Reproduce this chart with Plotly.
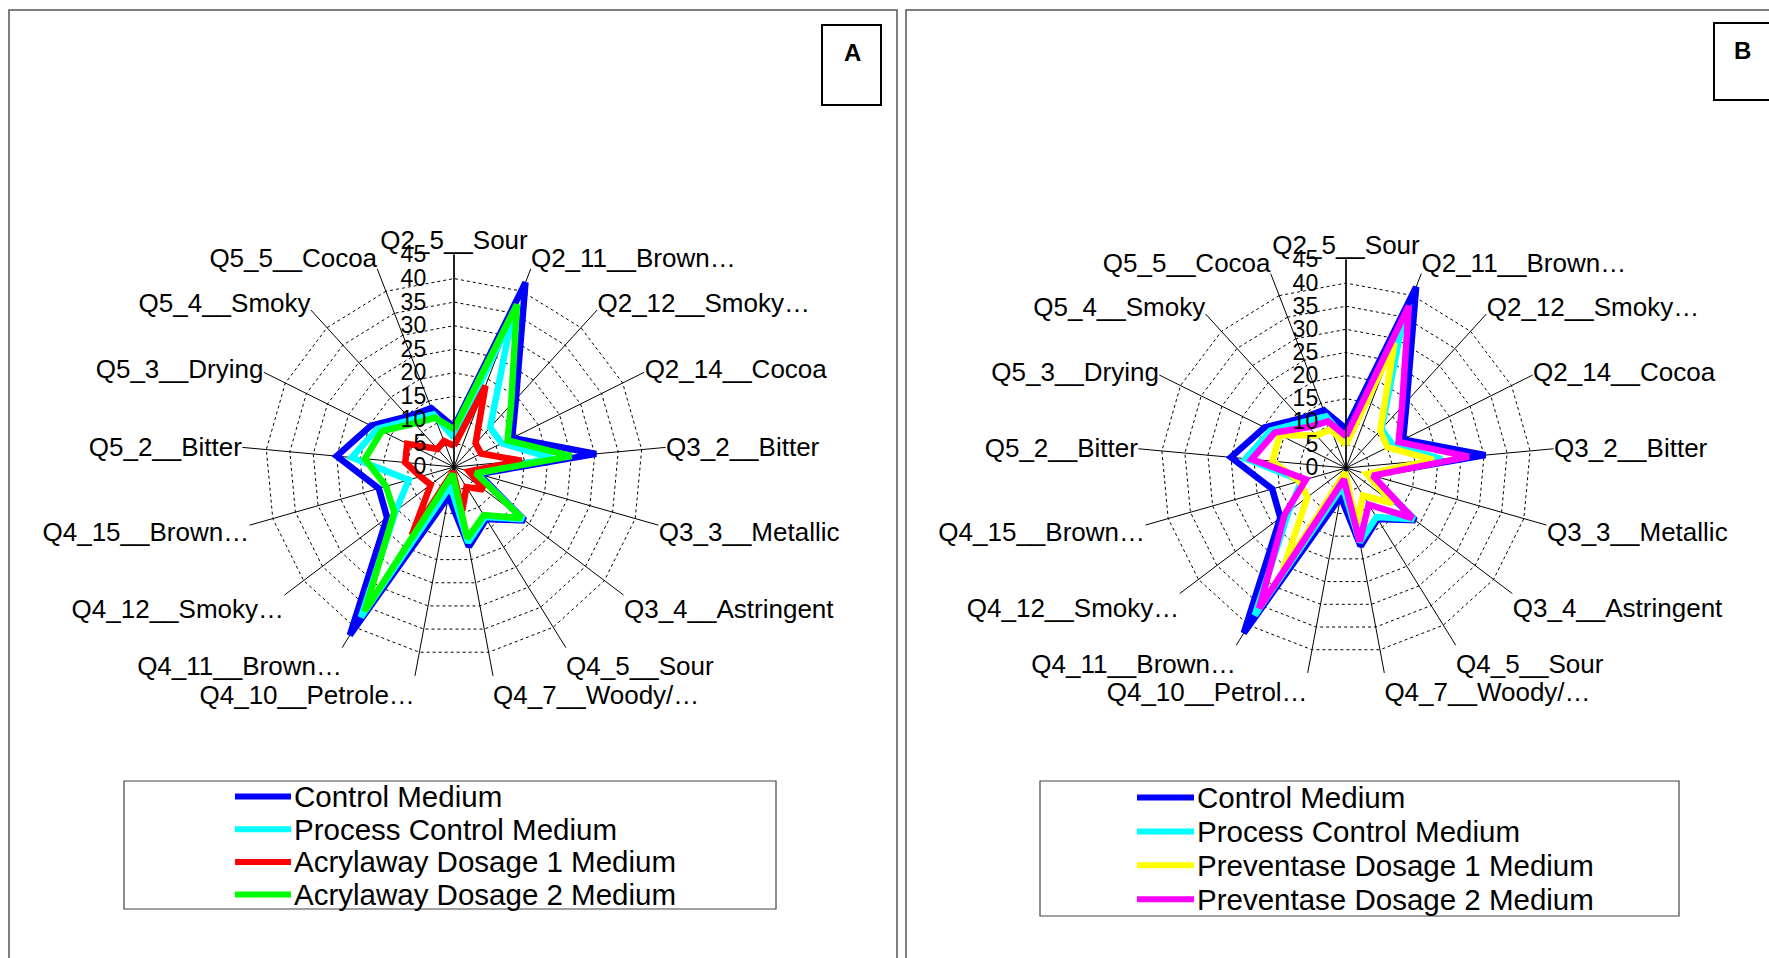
import plotly.graph_objects as go

W, H = 1769, 958

# Sensory attributes, clockwise from the top spoke
categories_a = [
    "Q2_5__Sour", "Q2_11__Brown…", "Q2_12__Smoky…", "Q2_14__Cocoa",
    "Q3_2__Bitter", "Q3_3__Metallic", "Q3_4__Astringent", "Q4_5__Sour",
    "Q4_7__Woody/…", "Q4_10__Petrole…", "Q4_11__Brown…", "Q4_12__Smoky…",
    "Q4_15__Brown…", "Q5_2__Bitter", "Q5_3__Drying", "Q5_4__Smoky",
    "Q5_5__Cocoa",
]
categories_b = [
    "Q2_5__Sour", "Q2_11__Brown…", "Q2_12__Smoky…", "Q2_14__Cocoa",
    "Q3_2__Bitter", "Q3_3__Metallic", "Q3_4__Astringent", "Q4_5__Sour",
    "Q4_7__Woody/…", "Q4_10__Petrol…", "Q4_11__Brown…", "Q4_12__Smoky…",
    "Q4_15__Brown…", "Q5_2__Bitter", "Q5_3__Drying", "Q5_4__Smoky",
    "Q5_5__Cocoa",
]

control_medium = [8.5, 42.0, 19.5, 13.8, 30.3, 5.5, 18.8, 13.0, 17.2, 6.3,
                  42.0, 17.8, 16.6, 25.0, 19.7, 14.5, 13.4]
process_control_medium = [6.2, 34.0, 11.4, 11.3, 20.8, 5.0, 18.4, 12.5, 16.3, 4.0,
                          37.5, 15.5, 10.0, 21.8, 18.2, 13.5, 12.0]
acrylaway_dosage_1 = [4.5, 18.5, 6.8, 6.4, 14.4, 3.3, 7.9, 5.0, 9.5, 1.0,
                      17.0, 6.2, 7.4, 10.4, 11.1, 5.2, 5.9]
acrylaway_dosage_2 = [8.0, 37.0, 18.0, 12.7, 25.0, 4.8, 18.0, 12.0, 15.4, 1.5,
                      36.0, 15.9, 15.0, 19.0, 17.1, 12.5, 11.2]
preventase_dosage_1 = [5.0, 29.0, 11.0, 10.0, 19.0, 4.7, 12.7, 7.0, 12.5, 1.0,
                       26.0, 10.5, 10.5, 16.0, 16.0, 9.5, 9.0]
preventase_dosage_2 = [6.9, 37.6, 18.0, 12.7, 26.7, 6.0, 18.0, 9.3, 16.2, 2.5,
                       35.7, 16.6, 9.0, 20.5, 17.2, 12.0, 10.8]

radial_ticks = [0, 5, 10, 15, 20, 25, 30, 35, 40, 45]
R_MAX = 45.1  # a hair past 45 so the outer dotted ring is drawn

series_a = [
    ("Control Medium", control_medium, "#0000FF"),
    ("Process Control Medium", process_control_medium, "#00FFFF"),
    ("Acrylaway Dosage 1 Medium", acrylaway_dosage_1, "#FF0000"),
    ("Acrylaway Dosage 2 Medium", acrylaway_dosage_2, "#00FF00"),
]
series_b = [
    ("Control Medium", control_medium, "#0000FF"),
    ("Process Control Medium", process_control_medium, "#00FFFF"),
    ("Preventase Dosage 1 Medium", preventase_dosage_1, "#FFFF00"),
    ("Preventase Dosage 2 Medium", preventase_dosage_2, "#FF00FF"),
]

FONT = "Liberation Sans, Arial, sans-serif"


def px_x(x):
    return x / W


def px_y(y):
    return 1 - y / H


fig = go.Figure()


def add_series(series, cats, subplot):
    for name, vals, color in series:
        fig.add_trace(go.Scatterpolar(
            r=list(vals) + [vals[0]],
            theta=list(cats) + [cats[0]],
            mode="lines",
            name=name,
            line=dict(color=color, width=6.5),
            subplot=subplot,
            showlegend=False,
            hoverinfo="skip",
        ))


add_series(series_a, categories_a, "polar")
add_series(series_b, categories_b, "polar2")


def polar_cfg(cx, cy, rad45, cats):
    rad = rad45 * R_MAX / 45
    return dict(
        domain=dict(x=[px_x(cx - rad), px_x(cx + rad)],
                    y=[px_y(cy + rad), px_y(cy - rad)]),
        bgcolor="white",
        gridshape="linear",
        angularaxis=dict(
            type="category", categoryorder="array", categoryarray=cats,
            direction="clockwise", rotation=90,
            showline=False, showgrid=True, gridcolor="black", gridwidth=1,
            ticks="",
            tickfont=dict(family=FONT, size=26, color="black"),
        ),
        radialaxis=dict(
            range=[0, R_MAX], tickvals=radial_ticks, angle=90,
            side="counterclockwise",
            showline=True, linecolor="black", linewidth=1.5,
            showgrid=True, gridcolor="black", gridwidth=1, griddash="dot",
            ticks="outside", ticklen=19, tickcolor="rgba(0,0,0,0)",
            tickangle=90,
            tickfont=dict(family=FONT, size=23, color="black"),
        ),
    )


shapes = []
annotations = []

# Panel frames
shapes.append(dict(type="rect", xref="paper", yref="paper",
                   x0=px_x(9), x1=px_x(897), y0=px_y(970), y1=px_y(10),
                   line=dict(color="#555555", width=1.5), fillcolor="rgba(0,0,0,0)"))
shapes.append(dict(type="rect", xref="paper", yref="paper",
                   x0=px_x(906), x1=px_x(1790), y0=px_y(970), y1=px_y(10),
                   line=dict(color="#555555", width=1.5), fillcolor="rgba(0,0,0,0)"))

# Panel tags
for tag, x0, x1, y0, y1, tx, ty in [("A", 822, 881, 25, 105, 852, 52),
                                    ("B", 1714, 1790, 23, 100, 1742, 50)]:
    shapes.append(dict(type="rect", xref="paper", yref="paper",
                       x0=px_x(x0), x1=px_x(x1), y0=px_y(y1), y1=px_y(y0),
                       line=dict(color="black", width=2), fillcolor="white"))
    annotations.append(dict(text="<b>%s</b>" % tag, xref="paper", yref="paper",
                            x=px_x(tx), y=px_y(ty), xanchor="center", yanchor="middle",
                            showarrow=False, font=dict(family=FONT, size=24, color="black")))


def add_legend(series, box, line_x0, line_x1, rows):
    bx0, by0, bx1, by1 = box
    shapes.append(dict(type="rect", xref="paper", yref="paper",
                       x0=px_x(bx0), x1=px_x(bx1), y0=px_y(by1), y1=px_y(by0),
                       line=dict(color="#444444", width=1.2), fillcolor="rgba(0,0,0,0)"))
    for (name, _vals, color), ry in zip(series, rows):
        shapes.append(dict(type="line", xref="paper", yref="paper",
                           x0=px_x(line_x0), x1=px_x(line_x1), y0=px_y(ry), y1=px_y(ry),
                           line=dict(color=color, width=6)))
        annotations.append(dict(text=name, xref="paper", yref="paper",
                                x=px_x(line_x1 + 1), y=px_y(ry), xanchor="left", yanchor="middle",
                                showarrow=False, font=dict(family=FONT, size=29.5, color="black")))


add_legend(series_a, (124, 781, 776, 909), 235, 291, [796.5, 829.2, 861.9, 894.6])
add_legend(series_b, (1040, 781, 1679, 916), 1137, 1194, [797.6, 831.5, 865.3, 899.2])

fig.update_layout(
    width=W, height=H,
    margin=dict(l=0, r=0, t=0, b=0),
    paper_bgcolor="white",
    plot_bgcolor="white",
    showlegend=False,
    polar=polar_cfg(454, 467, 212, categories_a),
    polar2=polar_cfg(1346, 468, 208, categories_b),
    shapes=shapes,
    annotations=annotations,
    font=dict(family=FONT, color="black"),
)

fig.write_html("out.html")
